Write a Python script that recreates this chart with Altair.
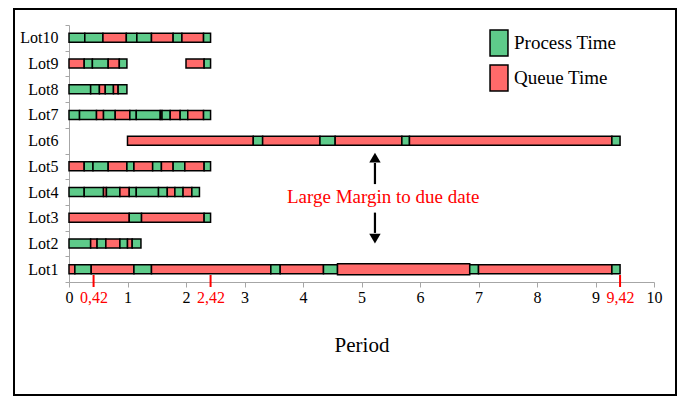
import altair as alt
import pandas as pd

# ---- data ----
lots = ["Lot10", "Lot9", "Lot8", "Lot7", "Lot6", "Lot5", "Lot4", "Lot3", "Lot2", "Lot1"]

# segment boundaries per lot and the kind of each segment
# G = process time, Q = queue time, _ = idle (not drawn)
lot1_bounds = [0, 0.10, 0.38, 1.11, 1.41, 3.45, 3.61, 4.35, 4.59, 6.85, 7.00, 9.28, 9.42]
lot1_kinds = "QGQGQGQGQGQG"
lot2_bounds = [0, 0.37, 0.48, 0.63, 0.87, 1.00, 1.08, 1.23]
lot2_kinds = "GQGQGQG"
lot3_bounds = [0, 1.03, 1.24, 2.31, 2.42]
lot3_kinds = "QGQG"
lot4_bounds = [0, 0.26, 0.59, 0.64, 0.87, 1.03, 1.15, 1.53, 1.68, 1.81, 1.95, 2.10, 2.23]
lot4_kinds = "GGQGQGGGQGQG"
lot5_bounds = [0, 0.26, 0.41, 0.67, 0.99, 1.11, 1.43, 1.58, 1.78, 1.98, 2.31, 2.42]
lot5_kinds = "QGGQGQGQGQG"
lot6_bounds = [1.00, 3.15, 3.31, 4.29, 4.55, 5.69, 5.82, 9.28, 9.42]
lot6_kinds = "QGQGQGQG"
lot7_bounds = [0, 0.18, 0.47, 0.59, 0.79, 1.04, 1.15, 1.56, 1.59, 1.73, 1.90, 2.03, 2.30, 2.42]
lot7_kinds = "GGQGQGGQGQGQG"
lot8_bounds = [0, 0.37, 0.52, 0.62, 0.76, 0.84, 0.99]
lot8_kinds = "GGQGQG"
lot9_bounds = [0, 0.26, 0.40, 0.67, 0.86, 0.99, 2.00, 2.31, 2.42]
lot9_kinds = "QGGQG_QG"
lot10_bounds = [0, 0.27, 0.58, 0.98, 1.16, 1.41, 1.78, 1.93, 2.30, 2.42]
lot10_kinds = "GGQGGQGQG"

# Lot1's long queue segment drawn slightly taller in the original
tall_segment = ("Lot1", 4.59)

due_dates = [0.42, 2.42, 9.42]
x_ticks = [0, 0.42, 1, 2, 2.42, 3, 4, 5, 6, 7, 8, 9, 9.42, 10]

note_text = ["Large Margin to due date"]
note_x = [5.37]
note_y = [3.81]
arrow_x = [5.23, 5.23]
arrow_tail = [4.31, 3.20]
arrow_shaft_end = [5.13, 2.41]
arrow_head = [5.34, 2.19]
arrow_shape = ["triangle-up", "triangle-down"]

# ---- build the table ----
all_lots = {
    "Lot1": (lot1_bounds, lot1_kinds), "Lot2": (lot2_bounds, lot2_kinds),
    "Lot3": (lot3_bounds, lot3_kinds), "Lot4": (lot4_bounds, lot4_kinds),
    "Lot5": (lot5_bounds, lot5_kinds), "Lot6": (lot6_bounds, lot6_kinds),
    "Lot7": (lot7_bounds, lot7_kinds), "Lot8": (lot8_bounds, lot8_kinds),
    "Lot9": (lot9_bounds, lot9_kinds), "Lot10": (lot10_bounds, lot10_kinds),
}
names = {"G": "Process Time", "Q": "Queue Time"}
rows = []
for lot, (b, k) in all_lots.items():
    for i, kind in enumerate(k):
        if kind == "_":
            continue
        rows.append({"lot": lot, "start": b[i], "end": b[i + 1], "kind": names[kind],
                     "tall": (lot, b[i]) == tall_segment})
df = pd.DataFrame(rows)

GREEN = "#5ecb8a"
RED = "#ff6a6a"
FONT = "Liberation Serif"

x_scale = alt.Scale(domain=[0, 10], nice=False, zero=False)

bars = alt.Chart(df).mark_bar(stroke="black", strokeWidth=1.5).encode(
    x=alt.X("start:Q", scale=x_scale,
            axis=alt.Axis(values=x_ticks, title="Period", grid=False,
                          labelExpr="datum.value % 1 === 0 ? format(datum.value, 'd') : replace(format(datum.value, '.2f'), '.', ',')",
                          labelColor={"condition": {"test": "datum.value % 1 !== 0", "value": "#ff0000"}, "value": "black"},
                          tickOpacity={"condition": {"test": "datum.value % 1 !== 0", "value": 0}, "value": 1},
                          labelFlush=False, labelOverlap=False, labelFont=FONT, labelFontSize=16,
                          labelPadding=2, tickSize=5, tickColor="#a6a6a6", domainColor="#a6a6a6",
                          titleFont=FONT, titleFontSize=21, titleFontWeight="normal",
                          titleColor="black", titlePadding=29)),
    x2="end:Q",
    y=alt.Y("lot:N", sort=lots, scale=alt.Scale(paddingInner=0, paddingOuter=0),
            axis=alt.Axis(title=None, tickBand="extent", labelFont=FONT, labelFontSize=16,
                          labelColor="black", labelPadding=7, tickSize=4,
                          tickColor="#a6a6a6", domainColor="#a6a6a6")),
    fill=alt.Fill("kind:N",
                  scale=alt.Scale(domain=["Process Time", "Queue Time"], range=[GREEN, RED]),
                  legend=alt.Legend(orient="none", legendX=416, legendY=4, title=None,
                                    symbolType="M-0.69,-1L0.69,-1L0.69,1L-0.69,1Z",
                                    symbolSize=676, symbolStrokeColor="black",
                                    symbolStrokeWidth=1.5, labelFont=FONT, labelFontSize=19,
                                    labelColor="black", rowPadding=3, labelOffset=1)),
    size=alt.condition("datum.tall", alt.value(11), alt.value(9)),
)

due_df = pd.DataFrame({"due": due_dates})
due_ticks = alt.Chart(due_df).mark_rule(color="#ff0000", strokeWidth=2).encode(
    x=alt.X("due:Q", scale=x_scale),
    y=alt.value(250), y2=alt.value(262),
)

y_ann = alt.Scale(domain=[0.5, 10.5], nice=False, zero=False)

arrow_df = pd.DataFrame({"x": arrow_x, "tail": arrow_tail, "shaft": arrow_shaft_end,
                         "head": arrow_head, "shape": arrow_shape})
shafts = alt.Chart(arrow_df).mark_rule(color="black", strokeWidth=2.2).encode(
    x=alt.X("x:Q", scale=x_scale),
    y=alt.Y("tail:Q", scale=y_ann, axis=None),
    y2="shaft:Q",
)
heads = alt.Chart(arrow_df).mark_point(filled=True, color="black", opacity=1, size=130).encode(
    x=alt.X("x:Q", scale=x_scale),
    y=alt.Y("head:Q", scale=y_ann, axis=None),
    shape=alt.Shape("shape:N", scale=None, legend=None),
)
note_df = pd.DataFrame({"x": note_x, "y": note_y, "t": note_text})
note = alt.Chart(note_df).mark_text(color="#ff0000", font=FONT, fontSize=19).encode(
    x=alt.X("x:Q", scale=x_scale),
    y=alt.Y("y:Q", scale=y_ann, axis=None),
    text="t:N",
)

frame = alt.Chart(alt.Data(values=[{}])).mark_rect(
    fillOpacity=0, stroke="black", strokeWidth=2
).encode(x=alt.value(-55), x2=alt.value(607), y=alt.value(-16), y2=alt.value(370))

chart = alt.layer(bars, due_ticks, shafts, heads, note, frame).resolve_scale(
    y="independent"
).properties(
    width=585, height=257,
    padding={"left": 61, "top": 17, "right": 26, "bottom": 114},
    autosize=alt.AutoSizeParams(type="none"),
).configure(font=FONT).configure_view(stroke=None)

chart.save("out.html", embed_options={"renderer": "svg", "actions": False})
